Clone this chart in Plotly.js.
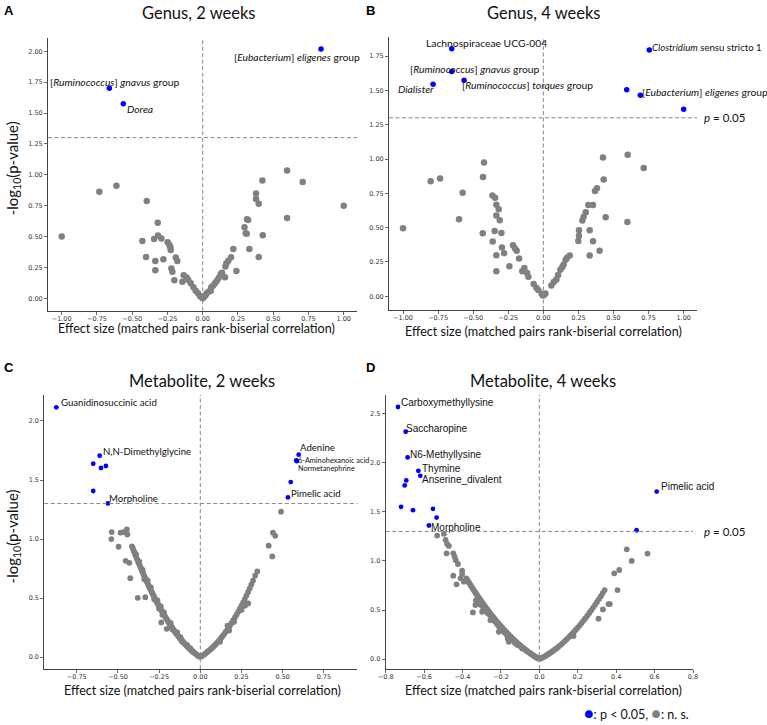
<!DOCTYPE html>
<html>
<head>
<meta charset="utf-8">
<script src="https://cdn.plot.ly/plotly-3.0.1.min.js"></script>
<style>html,body{margin:0;padding:0;background:#fff;}#chart{width:767px;height:725px;}</style>
</head>
<body>
<div id="chart"></div>
<script>
// ---------------- DATA ----------------
// Panel A: Genus, 2 weeks
const a_sig_x = [0.839, -0.662, -0.563];
const a_sig_y = [2.019, 1.700, 1.576];
const a_sig_lab = ['[<i>Eubacterium</i>] <i>eligenes</i> group', '[<i>Ruminococcus</i>] <i>gnavus</i> group', '<i>Dorea</i>'];
const a_ns_x = [-1.0,-0.733,-0.612,-0.397,-0.428,-0.402,-0.336,-0.336,-0.319,-0.345,-0.317,-0.293,-0.279,-0.248,-0.236,-0.229,-0.227,-0.222,-0.215,-0.191,-0.180,-0.201,-0.144,-0.135,-0.113,-0.102,-0.085,-0.066,-0.050,-0.033,-0.019,-0.009,0.0,
  0.010,0.020,0.028,0.045,0.057,0.061,0.075,0.087,0.099,0.113,0.128,0.137,0.158,0.161,0.168,0.182,0.201,0.217,0.239,0.296,0.305,0.314,0.322,0.312,0.331,0.378,0.378,0.397,0.397,0.423,0.426,0.598,0.598,0.709,1.0];
const a_ns_y = [0.50,0.862,0.911,0.789,0.465,0.335,0.303,0.227,0.611,0.481,0.508,0.484,0.316,0.454,0.432,0.414,0.392,0.241,0.216,0.330,0.303,0.146,0.135,0.186,0.168,0.149,0.122,0.089,0.062,0.041,0.019,0.008,0.0,
  0.012,0.025,0.041,0.055,0.062,0.089,0.105,0.122,0.141,0.165,0.197,0.208,0.170,0.257,0.284,0.305,0.332,0.400,0.222,0.576,0.527,0.641,0.635,0.522,0.400,0.849,0.805,0.765,0.335,0.954,0.511,1.035,0.651,0.941,0.749];

// Panel B: Genus, 4 weeks
const b_sig_x = [-0.653, -0.653, -0.786, -0.565, 0.755, 0.594, 0.691, 1.0];
const b_sig_y = [1.804, 1.638, 1.546, 1.575, 1.796, 1.505, 1.466, 1.364];
const b_sig_lab = ['Lachnospiraceae UCG-004', '[<i>Ruminococcus</i>] <i>gnavus</i> group', '<i>Dialister</i>', '[<i>Ruminococcus</i>] <i>torques</i> group', '<i>Clostridium</i> sensu stricto 1', '', '[<i>Eubacterium</i>] <i>eligenes</i> group', ''];
const b_ns_x = [-1.0,-0.803,-0.736,-0.575,-0.601,-0.423,-0.430,-0.432,-0.363,-0.344,-0.335,-0.318,-0.335,-0.311,-0.347,-0.299,-0.361,-0.335,-0.335,-0.295,-0.280,-0.242,-0.216,-0.202,-0.190,-0.173,-0.150,-0.135,-0.116,-0.107,-0.069,-0.050,-0.036,-0.012,-0.004,0.005,0.015,
  0.057,0.074,0.093,0.105,0.121,0.135,0.145,0.159,0.169,0.188,0.249,0.254,0.254,0.278,0.287,0.302,0.321,0.354,0.330,0.330,0.354,0.368,0.382,0.401,0.425,0.430,0.444,0.601,0.599,0.715];
const b_ns_y = [0.496,0.839,0.858,0.754,0.561,0.975,0.870,0.459,0.734,0.719,0.668,0.634,0.588,0.554,0.476,0.462,0.399,0.299,0.182,0.355,0.314,0.219,0.372,0.348,0.331,0.275,0.182,0.207,0.170,0.143,0.090,0.063,0.046,0.019,0.005,0.010,0.020,
  0.078,0.105,0.122,0.156,0.194,0.214,0.231,0.267,0.280,0.297,0.403,0.442,0.481,0.552,0.579,0.613,0.666,0.666,0.297,0.481,0.401,0.768,0.788,0.331,1.011,0.851,0.576,1.031,0.542,0.936];

// Panel C: Metabolite, 2 weeks
const c_sig_x = [-0.874,-0.611,-0.650,-0.603,-0.573,-0.650,-0.561,0.597,0.583,0.585,0.549,0.532];
const c_sig_y = [2.116,1.706,1.638,1.602,1.619,1.407,1.302,1.715,1.667,1.660,1.483,1.353];
const c_sig_lab = ['Guanidinosuccinic acid','N,N-Dimethylglycine','','','','','Morpholine','Adenine','6-Aminohexanoic acid','Normetanephrine','','Pimelic acid'];
const c_ns_x = [
  -0.538,-0.540,-0.496,-0.484,-0.462,-0.446,-0.443,-0.453,-0.431,-0.425,-0.380,-0.334,-0.237,-0.204,
  -0.005,-0.010,-0.015,-0.020,-0.025,-0.030,-0.035,-0.040,-0.045,-0.050,-0.055,-0.060,-0.065,-0.070,-0.075,-0.080,-0.085,-0.090,-0.095,-0.100,
  -0.105,-0.110,-0.115,-0.120,-0.125,-0.130,-0.135,-0.140,-0.145,-0.150,-0.155,-0.160,-0.165,-0.170,-0.175,-0.180,-0.185,-0.190,-0.195,-0.200,
  -0.205,-0.210,-0.215,-0.220,-0.225,-0.230,-0.235,-0.240,-0.245,-0.250,-0.255,-0.260,-0.265,-0.270,-0.275,-0.280,-0.285,-0.290,-0.295,-0.300,
  -0.305,-0.310,-0.315,-0.320,-0.325,-0.330,-0.335,-0.340,-0.345,-0.350,-0.355,-0.360,-0.365,-0.370,-0.375,-0.380,-0.385,-0.390,-0.395,-0.400,
  -0.405,-0.410,-0.415,
  -0.220,-0.240,-0.260,-0.180,-0.300,-0.320,-0.350,-0.370,-0.390,-0.140,-0.120,-0.080,-0.060,-0.280,-0.250,-0.340,-0.230,-0.170,-0.110,
  0.005,0.012,0.020,0.028,0.036,0.044,0.052,0.059,0.066,0.074,0.082,0.090,0.098,0.106,0.114,0.122,0.130,0.138,0.146,0.155,
  0.164,0.172,0.180,0.190,0.200,0.210,0.220,0.230,0.240,0.250,0.260,0.270,0.280,0.290,0.300,0.310,0.320,0.333,0.346,
  0.165,0.175,0.250,0.271,0.291,0.415,0.437,0.441,0.455,0.490,0.120,0.205];
const c_ns_y = [
  1.059,1.000,0.935,1.054,1.060,1.082,1.039,0.816,0.799,0.669,0.503,0.508,0.294,0.240,
  0.004,0.010,0.013,0.020,0.024,0.031,0.035,0.042,0.046,0.055,0.059,0.067,0.072,0.080,0.086,0.094,0.100,0.109,0.115,0.124,
  0.130,0.140,0.146,0.157,0.163,0.174,0.181,0.192,0.199,0.211,0.218,0.230,0.238,0.250,0.258,0.271,0.279,0.292,0.301,0.314,
  0.323,0.336,0.345,0.359,0.368,0.383,0.393,0.408,0.418,0.433,0.443,0.459,0.469,0.485,0.496,0.512,0.523,0.540,0.551,0.569,
  0.580,0.598,0.610,0.628,0.640,0.658,0.670,0.689,0.702,0.721,0.734,0.753,0.766,0.786,0.800,0.820,0.834,0.854,0.868,0.889,
  0.903,0.925,0.938,
  0.380,0.430,0.480,0.290,0.590,0.650,0.740,0.810,0.870,0.210,0.170,0.105,0.075,0.490,0.410,0.660,0.360,0.235,0.130,
  0.005,0.012,0.020,0.028,0.037,0.047,0.055,0.062,0.072,0.082,0.093,0.104,0.116,0.128,0.141,0.154,0.169,0.183,0.198,0.216,
  0.233,0.252,0.269,0.290,0.313,0.336,0.360,0.384,0.410,0.437,0.464,0.492,0.522,0.552,0.583,0.615,0.648,0.690,0.727,
  0.268,0.226,0.400,0.435,0.455,0.944,0.853,1.054,1.028,1.232,0.130,0.300];

// Panel D: Metabolite, 4 weeks
const d_sig_x = [-0.736,-0.696,-0.686,-0.630,-0.620,-0.693,-0.701,-0.720,-0.658,-0.554,-0.535,-0.575,0.611,0.506];
const d_sig_y = [2.568,2.316,2.054,1.918,1.867,1.820,1.769,1.551,1.517,1.531,1.442,1.361,1.707,1.313];
const d_sig_lab = ['Carboxymethyllysine','Saccharopine','N6-Methyllysine','Thymine','Anserine_divalent','','','','','','','Morpholine','Pimelic acid',''];
const d_ns_x = [
  -0.532,-0.497,-0.488,-0.480,-0.471,-0.483,-0.448,-0.441,-0.436,-0.424,-0.402,-0.402,-0.448,-0.410,-0.431,-0.393,
  -0.346,-0.333,-0.298,-0.281,-0.255,-0.211,-0.203,-0.165,-0.159,-0.151,
  -0.005,-0.010,-0.015,-0.020,-0.025,-0.030,-0.035,-0.040,-0.045,-0.050,-0.055,-0.060,-0.065,-0.070,-0.075,-0.080,-0.085,-0.090,-0.095,-0.100,
  -0.105,-0.110,-0.115,-0.120,-0.125,-0.130,-0.135,-0.140,-0.145,-0.150,-0.155,-0.160,-0.165,-0.170,-0.175,-0.180,-0.185,-0.190,-0.195,-0.200,
  -0.205,-0.210,-0.215,-0.220,-0.225,-0.230,-0.235,-0.240,-0.245,-0.250,-0.255,-0.260,-0.265,-0.270,-0.275,-0.280,-0.285,-0.290,-0.295,-0.300,
  -0.305,-0.310,-0.315,-0.320,-0.325,-0.330,-0.335,-0.340,-0.345,-0.350,-0.355,-0.360,-0.365,-0.370,-0.375,-0.380,
  -0.330,-0.310,-0.290,-0.270,-0.250,-0.230,-0.210,-0.190,-0.170,-0.150,-0.130,-0.110,-0.090,-0.320,-0.280,-0.240,-0.200,-0.160,-0.120,-0.300,-0.260,-0.220,-0.180,
  0.005,0.012,0.020,0.028,0.036,0.044,0.052,0.060,0.068,0.076,0.084,0.092,0.100,0.110,0.120,0.130,0.140,0.150,0.160,0.170,
  0.180,0.190,0.200,0.210,0.220,0.230,0.240,0.250,0.260,0.270,0.280,0.290,0.300,0.310,0.320,0.330,0.340,
  0.455,0.481,0.563,0.390,0.416,0.407,0.360,0.331,0.308,0.178,0.367];
const d_ns_y = [
  1.259,1.276,1.214,1.173,1.153,1.078,1.078,1.044,1.010,0.969,0.901,0.867,0.850,0.823,0.762,0.789,
  0.476,0.551,0.483,0.517,0.398,0.279,0.313,0.211,0.177,0.211,
  0.006,0.012,0.017,0.024,0.030,0.036,0.043,0.049,0.056,0.063,0.070,0.077,0.084,0.092,0.100,0.107,0.115,0.123,0.131,0.140,
  0.148,0.156,0.165,0.174,0.183,0.192,0.201,0.211,0.220,0.230,0.240,0.250,0.260,0.270,0.280,0.291,0.301,0.312,0.323,0.334,
  0.345,0.356,0.368,0.379,0.391,0.403,0.415,0.427,0.439,0.452,0.464,0.477,0.490,0.503,0.516,0.529,0.543,0.556,0.570,0.584,
  0.598,0.611,0.626,0.640,0.655,0.669,0.684,0.699,0.714,0.729,0.744,0.760,0.775,0.791,0.807,0.823,
  0.600,0.560,0.520,0.470,0.420,0.380,0.330,0.290,0.250,0.210,0.170,0.140,0.110,0.585,0.500,0.400,0.310,0.220,0.155,0.545,0.455,0.355,0.270,
  0.005,0.012,0.020,0.029,0.038,0.048,0.058,0.069,0.080,0.091,0.103,0.115,0.128,0.144,0.161,0.179,0.198,0.217,0.236,0.257,
  0.278,0.300,0.322,0.345,0.369,0.393,0.418,0.444,0.470,0.497,0.525,0.553,0.582,0.612,0.642,0.673,0.704,
  1.119,1.000,1.075,0.874,0.908,0.704,0.561,0.507,0.412,0.235,0.561];

const threshold = 1.301; // -log10(0.05)

// ---------------- LAYOUT HELPERS ----------------
const W = 767, H = 725;
const px = v => v / W;
const py = v => 1 - v / H;
const SANS = 'Lato, "Open Sans", sans-serif';
const BLUE = '#0000ff', GRAY = '#808080';

const panels = [
  {id:'', sx:a_sig_x, sy:a_sig_y, lab:a_sig_lab, nx:a_ns_x, ny:a_ns_y,
   xr:[-1.097,1.094], yr:[-0.10,2.11], xt:[-1,-0.75,-0.5,-0.25,0,0.25,0.5,0.75,1], yt:[0,0.25,0.5,0.75,1,1.25,1.5,1.75,2], xf:'.2f', yf:'.2f',
   xd:[px(48),px(357)], yd:[py(310.7),py(37.7)], ms:6.5, lfont:10.3,
   off:[['right',41,-8.4],['center',6,6.7],['left',1.4,-5.3]]},
  {id:'2', sx:b_sig_x, sy:b_sig_y, lab:b_sig_lab, nx:b_ns_x, ny:b_ns_y,
   xr:[-1.10,1.095], yr:[-0.10,1.89], xt:[-1,-0.75,-0.5,-0.25,0,0.25,0.5,0.75,1], yt:[0,0.25,0.5,0.75,1,1.25,1.5,1.75], xf:'.2f', yf:'.2f',
   xd:[px(389),px(697)], yd:[py(310),py(37)], ms:6.5, lfont:10.3,
   off:[['center',34.6,6],['center',23.5,2.6],['right',3.3,-5.3],['left',-4.3,-4.7],['left',0.4,2.4,9.6],null,['left',0,3.3],null]},
  {id:'3', sx:c_sig_x, sy:c_sig_y, lab:c_sig_lab, nx:c_ns_x, ny:c_ns_y,
   xr:[-0.947,0.953], yr:[-0.10,2.22], xt:[-0.75,-0.5,-0.25,0,0.25,0.5,0.75], yt:[0,0.5,1,1.5,2], xf:'.2f', yf:'.1f',
   xd:[px(44.3),px(357.3)], yd:[py(669),py(395)], ms:5.8, lfont:9.6,
   off:[['left',3,4.6],['left',1,4.4],null,null,null,null,['left',-0.7,5.3],['left',-0.4,6.7],['left',-0.3,-0.3,7.3],['left',-0.3,-7.2,7.3],null,['left',0.7,3.6]]},
  {id:'4', sx:d_sig_x, sy:d_sig_y, lab:d_sig_lab, nx:d_ns_x, ny:d_ns_y,
   xr:[-0.80,0.80], yr:[-0.10,2.69], xt:[-0.8,-0.6,-0.4,-0.2,0,0.2,0.4,0.6,0.8], yt:[0,0.5,1,1.5,2,2.5], xf:'.1f', yf:'.1f',
   xd:[px(385.7),px(693)], yd:[py(669),py(395)], ms:5.8, lfont:10, lfam:'"Liberation Sans", Arial, sans-serif',
   off:[['left',0.7,4],['left',-1.3,3.7],['left',0,2.7],['left',2,2.3],['left',0,-4],null,null,null,null,null,null,['left',0,-2],['left',2.3,5],null]}
];

const traces = [];
const annotations = [];
const shapes = [];
const layout = {
  width: W, height: H, margin:{l:0,r:0,t:0,b:0}, paper_bgcolor:'#fff', plot_bgcolor:'#fff',
  showlegend:false, font:{family:SANS, color:'#222'}
};

panels.forEach(p => {
  const xa = 'x' + p.id, ya = 'y' + p.id;
  traces.push({type:'scatter', mode:'markers', x:p.nx, y:p.ny, xaxis:xa, yaxis:ya,
    marker:{color:GRAY, size:p.ms, line:{width:0}}, hoverinfo:'skip'});
  traces.push({type:'scatter', mode:'markers', x:p.sx, y:p.sy, xaxis:xa, yaxis:ya,
    marker:{color:BLUE, size:p.ms-1, line:{width:0}}, hoverinfo:'skip'});
  const common = {showline:true, linecolor:'#444', linewidth:1, ticks:'outside', ticklen:3, tickwidth:0.8, tickcolor:'#444',
    showgrid:false, zeroline:false, tickfont:{family:'"DejaVu Sans", sans-serif', size:6.5, color:'#333'}, mirror:false, fixedrange:true};
  layout['xaxis' + p.id] = Object.assign({}, common, {range:p.xr, domain:p.xd, anchor:ya, tickvals:p.xt, tickformat:p.xf, ticklabelstandoff:-2});
  layout['yaxis' + p.id] = Object.assign({}, common, {range:p.yr, domain:p.yd, anchor:xa, tickvals:p.yt, tickformat:p.yf});
  shapes.push({type:'line', xref:xa + ' domain', yref:ya, x0:0, x1:1, y0:threshold, y1:threshold, line:{color:'#888', width:1, dash:'4px,2.5px'}});
  shapes.push({type:'line', xref:xa, yref:ya + ' domain', x0:0, x1:0, y0:0, y1:1, line:{color:'#888', width:1, dash:'4px,2.5px'}});
  p.lab.forEach((t, i) => {
    const o = p.off[i];
    if (!t || !o) return;
    annotations.push({xref:xa, yref:ya, x:p.sx[i], y:p.sy[i], text:t, showarrow:false,
      xanchor:o[0], yanchor:'middle', xshift:o[1], yshift:o[2],
      font:{family:p.lfam || SANS, size:o[3] || p.lfont, color:'#111'}});
  });
});

// titles & labels
const txt = (t, x, y, size, opt) => annotations.push(Object.assign({xref:'paper', yref:'paper', x:px(x), y:py(y), text:t, showarrow:false,
  xanchor:'center', yanchor:'middle', font:{family:SANS, size:size, color:'#111'}}, opt || {}));
txt('Genus, 2 weeks', 198, 12.7, 16.5);
txt('Genus, 4 weeks', 543, 12.7, 16.5);
txt('Metabolite, 2 weeks', 202.2, 380.7, 16.5);
txt('Metabolite, 4 weeks', 542.5, 380.7, 16.5);
const LBL = {family:'"Liberation Sans", Arial, sans-serif', size:13, color:'#000'};
txt('<b>A</b>', 9, 10, 13, {font:LBL});
txt('<b>B</b>', 370, 10, 13, {font:LBL});
txt('<b>C</b>', 9, 367, 13, {font:LBL});
txt('<b>D</b>', 370, 367, 13, {font:LBL});
const xtitle = 'Effect size (matched pairs rank-biserial correlation)';
txt(xtitle, 196.7, 328.8, 12.6);
txt(xtitle, 543, 331, 12.6);
txt(xtitle, 202.3, 690, 12.6);
txt(xtitle, 543, 690, 12.6);
const ytitle = '-log<sub>10</sub>(p-value)';
txt(ytitle, 13, 168.3, 15, {textangle:-90});
txt(ytitle, 12.7, 536.7, 15, {textangle:-90});
// p = 0.05 labels
annotations.push({xref:'paper', yref:'y2', x:px(702), y:threshold, text:'<i>p</i> = 0.05', showarrow:false, xanchor:'left', yanchor:'middle',
  font:{family:SANS, size:11.5, color:'#111'}});
annotations.push({xref:'paper', yref:'y4', x:px(702), y:threshold, text:'<i>p</i> = 0.05', showarrow:false, xanchor:'left', yanchor:'middle',
  font:{family:SANS, size:11.5, color:'#111'}});
// legend
txt('<span style="color:#0000ff;font-size:16px">●</span>: p &lt; 0.05, <span style="color:#808080;font-size:16px">●</span>: n. s.', 582, 712.7, 12.5, {xanchor:'left'});

layout.annotations = annotations;
layout.shapes = shapes;
Plotly.newPlot('chart', traces, layout, {staticPlot:true, displayModeBar:false});
</script>
</body>
</html>
